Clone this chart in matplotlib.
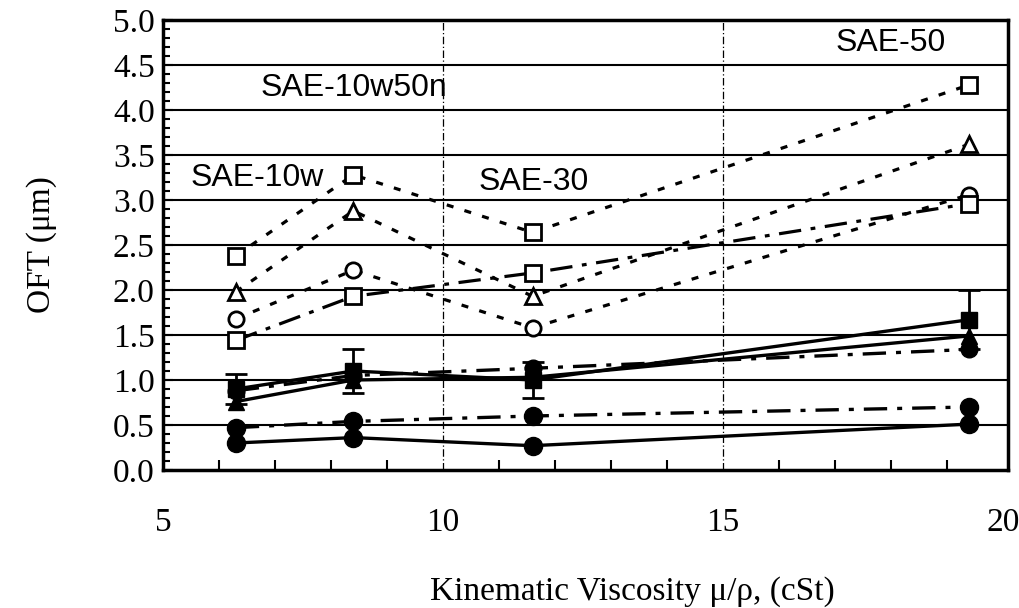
import matplotlib
matplotlib.use("Agg")
import matplotlib.pyplot as plt
from matplotlib.ticker import MultipleLocator

# kinematic viscosity of the four oils (cSt)
visc = [6.3, 8.4, 11.6, 19.4]
oil_names = ["SAE-10w", "SAE-10w50n", "SAE-30", "SAE-50"]

# open markers, upper group
open_sq_dot = [2.38, 3.28, 2.64, 4.28]
open_tri_dot = [1.98, 2.88, 1.93, 3.62]
open_circ_dot = [1.68, 2.22, 1.58, 3.06]
open_sq_dashdot = [1.44, 1.93, 2.19, 2.96]

# filled markers, lower group
fill_sq = [0.90, 1.10, 1.00, 1.67]
fill_sq_err = [0.17, 0.25, 0.20, 0.33]
fill_tri = [0.76, 1.00, 1.03, 1.49]
fill_dashdot = [0.88, 1.05, 1.13, 1.34]
fill_circ_dashdot = [0.47, 0.54, 0.60, 0.70]
fill_circ = [0.30, 0.36, 0.27, 0.51]

serif = "Liberation Serif"
sans = "Liberation Sans"

fig = plt.figure(figsize=(10.19, 6.08), dpi=100)
ax = fig.add_axes([0.160, 0.227, 0.829, 0.740])

dot = (0, (2.2, 3.6))
dashdot = (0, (7, 3, 1.5, 3))

ax.plot(visc, open_sq_dot, ls=dot, lw=2.3, color="black", marker="s",
        ms=12, mfc="white", mew=2)
ax.plot(visc, open_tri_dot, ls=dot, lw=2.3, color="black", marker="^",
        ms=11, mfc="white", mew=2)
ax.plot(visc, open_circ_dot, ls=dot, lw=2.3, color="black", marker="o",
        ms=11, mfc="white", mew=2)
ax.plot(visc, open_sq_dashdot, ls=dashdot, lw=2.3, color="black", marker="s",
        ms=12, mfc="white", mew=2)

ax.errorbar(visc, fill_sq, yerr=fill_sq_err, ls="-", lw=2.4, color="black",
            marker="s", ms=12, elinewidth=2, capsize=8, capthick=2)
ax.plot(visc, fill_tri, ls="-", lw=2.4, color="black", marker="^", ms=12)
ax.plot(visc, fill_dashdot, ls=dashdot, lw=2.4, color="black", marker="o", ms=12)
ax.plot(visc, fill_circ_dashdot, ls=dashdot, lw=2.4, color="black",
        marker="o", ms=13)
ax.plot(visc, fill_circ, ls="-", lw=2.4, color="black", marker="o", ms=13)

# oil grade labels
label_pos = [(5.5, 3.25), (6.75, 4.25), (10.63, 3.2), (17.02, 4.75)]
for name, (lx, ly) in zip(oil_names, label_pos):
    ax.text(lx, ly, name, fontsize=23, family=sans, ha="left", va="center")

ax.set_xlim(5, 20.09)
ax.set_ylim(0, 5)
ax.xaxis.set_major_locator(MultipleLocator(5))
ax.xaxis.set_minor_locator(MultipleLocator(1))
ax.yaxis.set_major_locator(MultipleLocator(0.5))
ax.yaxis.set_minor_locator(MultipleLocator(0.1))
ax.yaxis.set_major_formatter(plt.FormatStrFormatter("%.1f"))

for y in [0.5 * i for i in range(1, 10)]:
    ax.axhline(y, color="black", lw=1.5, zorder=0)
for x in [10, 15]:
    ax.axvline(x, color="black", lw=0.9, ls=(0, (6, 2, 1, 2)), zorder=0)

ax.tick_params(axis="both", which="both", direction="in", top=False,
               right=False, width=1.5)
ax.tick_params(axis="x", which="major", length=0, pad=27)
ax.tick_params(axis="x", which="minor", length=7)
ax.tick_params(axis="y", which="major", length=7, pad=6)
ax.tick_params(axis="y", which="minor", length=5)

for lab in ax.get_xticklabels() + ax.get_yticklabels():
    lab.set_fontfamily(serif)
    lab.set_fontsize(24)

for s in ax.spines.values():
    s.set_linewidth(2.5)

ax.set_xlabel("Kinematic Viscosity \u03bc/\u03c1, (cSt)", family=serif,
              fontsize=24)
ax.xaxis.set_label_coords(0.556, -0.235)
ax.set_ylabel("OFT (\u03bcm)", family=serif, fontsize=24, labelpad=40)

fig.savefig("out.png", dpi=100)
